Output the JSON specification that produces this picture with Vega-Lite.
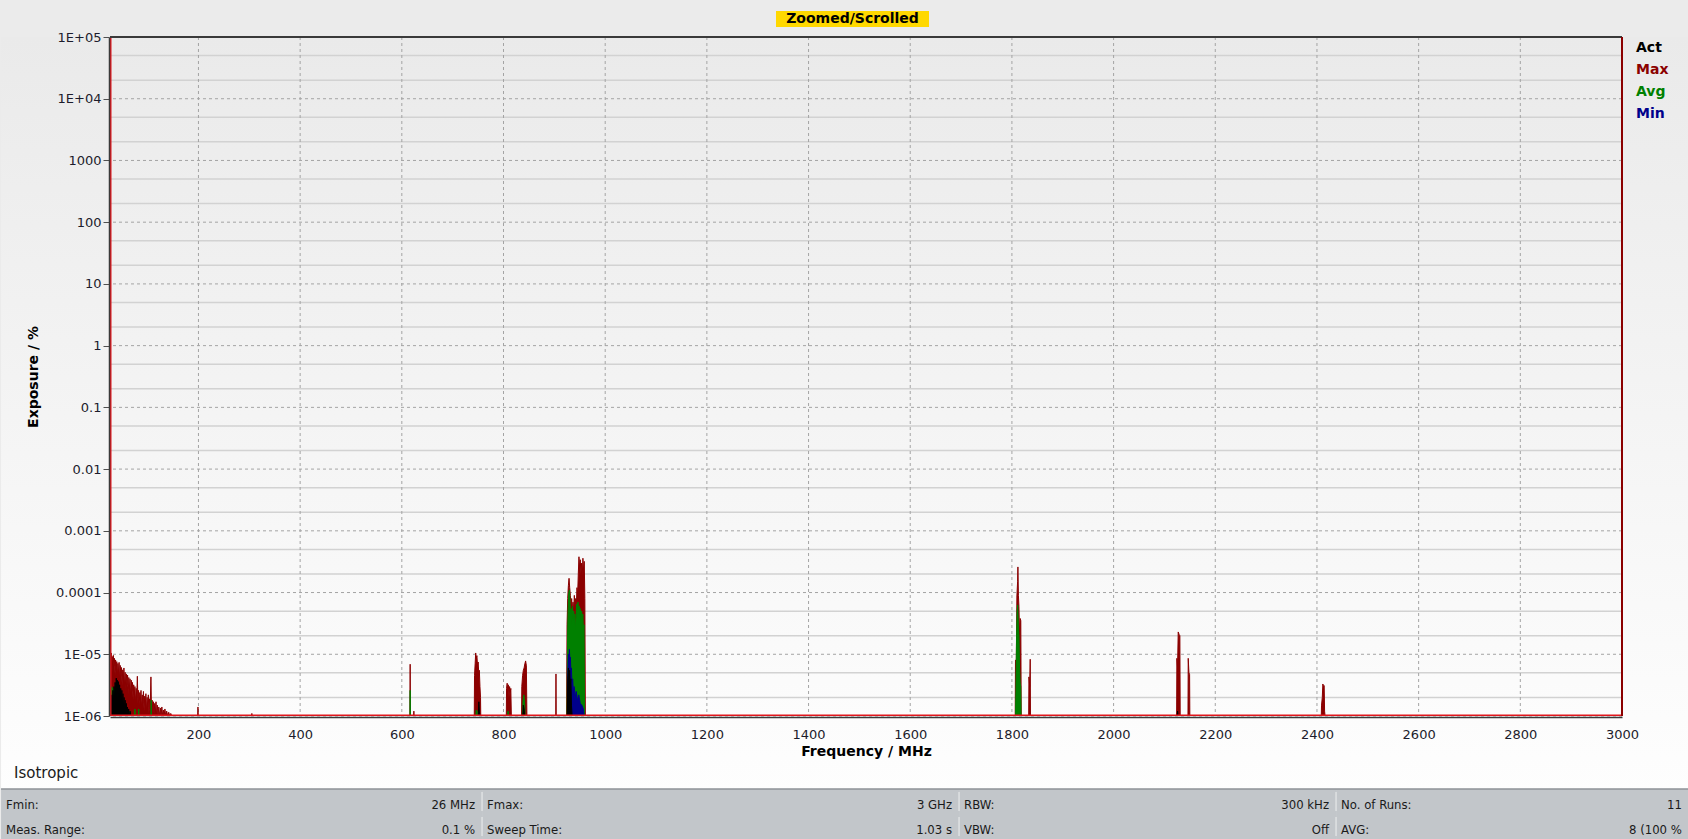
{
  "$schema": "https://vega.github.io/schema/vega-lite/v6.json",
  "background": "#ebebeb",
  "padding": {"left": 0, "top": 11, "right": 0, "bottom": 0},
  "bounds": "flush",
  "center": true,
  "spacing": 10,
  "config": {"view": {"stroke": null}, "font": "DejaVu Sans"},
  "resolve": {"scale": {"x": "independent", "y": "independent", "color": "independent"}, "axis": {"x": "independent", "y": "independent"}, "legend": {"color": "independent"}},
  "datasets": {
    "series": [
      {"s":"Max","f":26.2,"v":9.5e-6},{"s":"Max","f":27.3,"v":6.2e-6},{"s":"Max","f":28.4,"v":1.05e-5},{"s":"Max","f":29.4,"v":7.0e-6},
      {"s":"Max","f":30.5,"v":9.2e-6},{"s":"Max","f":31.5,"v":5.0e-6},{"s":"Max","f":32.6,"v":9.6e-6},{"s":"Max","f":33.6,"v":6.4e-6},
      {"s":"Max","f":34.8,"v":8.6e-6},{"s":"Max","f":35.9,"v":4.6e-6},{"s":"Max","f":37.0,"v":8.1e-6},{"s":"Max","f":38.1,"v":5.4e-6},
      {"s":"Max","f":39.3,"v":7.6e-6},{"s":"Max","f":40.4,"v":4.1e-6},{"s":"Max","f":41.5,"v":7.1e-6},{"s":"Max","f":42.7,"v":4.9e-6},
      {"s":"Max","f":43.9,"v":7.4e-6},{"s":"Max","f":45.0,"v":3.6e-6},{"s":"Max","f":46.2,"v":6.6e-6},{"s":"Max","f":47.4,"v":4.4e-6},
      {"s":"Max","f":48.6,"v":6.1e-6},{"s":"Max","f":49.8,"v":3.1e-6},{"s":"Max","f":51.0,"v":5.6e-6},{"s":"Max","f":52.2,"v":3.8e-6},
      {"s":"Max","f":53.4,"v":6.0e-6},{"s":"Max","f":54.6,"v":3.0e-6},{"s":"Max","f":55.8,"v":5.1e-6},{"s":"Max","f":57.0,"v":2.6e-6},
      {"s":"Max","f":58.2,"v":4.8e-6},{"s":"Max","f":59.4,"v":3.2e-6},{"s":"Max","f":60.6,"v":4.6e-6},{"s":"Max","f":61.8,"v":2.2e-6},
      {"s":"Max","f":63.0,"v":4.2e-6},{"s":"Max","f":64.2,"v":2.8e-6},{"s":"Max","f":65.4,"v":4.0e-6},{"s":"Max","f":66.6,"v":2.0e-6},
      {"s":"Max","f":67.8,"v":3.8e-6},{"s":"Max","f":69.0,"v":2.5e-6},{"s":"Max","f":70.2,"v":3.5e-6},{"s":"Max","f":71.4,"v":1.8e-6},
      {"s":"Max","f":72.6,"v":3.2e-6},{"s":"Max","f":73.8,"v":2.2e-6},{"s":"Max","f":75.0,"v":3.0e-6},{"s":"Max","f":76.2,"v":1.6e-6},
      {"s":"Max","f":77.4,"v":2.8e-6},{"s":"Max","f":78.6,"v":2.0e-6},{"s":"Max","f":79.8,"v":4.4e-6},{"s":"Max","f":81.0,"v":1.6e-6},
      {"s":"Max","f":82.2,"v":2.6e-6},{"s":"Max","f":83.4,"v":1.5e-6},{"s":"Max","f":84.6,"v":2.4e-6},{"s":"Max","f":85.8,"v":1.8e-6},
      {"s":"Max","f":87.0,"v":2.6e-6},{"s":"Max","f":88.2,"v":1.3e-6},{"s":"Max","f":89.4,"v":2.2e-6},{"s":"Max","f":90.6,"v":1.6e-6},
      {"s":"Max","f":91.8,"v":2.5e-6},{"s":"Max","f":93.0,"v":1.2e-6},{"s":"Max","f":94.2,"v":2.1e-6},{"s":"Max","f":95.4,"v":1.5e-6},
      {"s":"Max","f":96.6,"v":2.3e-6},{"s":"Max","f":97.8,"v":1.2e-6},{"s":"Max","f":99.0,"v":2.0e-6},{"s":"Max","f":100.2,"v":1.4e-6},
      {"s":"Max","f":101.4,"v":2.2e-6},{"s":"Max","f":102.6,"v":1.1e-6},{"s":"Max","f":103.8,"v":1.9e-6},{"s":"Max","f":105.0,"v":1.3e-6},
      {"s":"Max","f":106.5,"v":4.3e-6},{"s":"Max","f":107.7,"v":1.1e-6},{"s":"Max","f":109.0,"v":1.8e-6},{"s":"Max","f":110.2,"v":1.2e-6},
      {"s":"Max","f":111.5,"v":1.7e-6},{"s":"Max","f":112.7,"v":1.05e-6},{"s":"Max","f":114.0,"v":1.6e-6},{"s":"Max","f":115.2,"v":1.1e-6},
      {"s":"Max","f":116.5,"v":1.7e-6},{"s":"Max","f":117.7,"v":1.0e-6},{"s":"Max","f":119.0,"v":1.5e-6},{"s":"Max","f":120.5,"v":1.0e-6},
      {"s":"Max","f":122.0,"v":1.4e-6},{"s":"Max","f":123.5,"v":1.0e-6},{"s":"Max","f":125.0,"v":1.35e-6},{"s":"Max","f":126.5,"v":1.0e-6},
      {"s":"Max","f":128.0,"v":1.4e-6},{"s":"Max","f":129.5,"v":1.0e-6},{"s":"Max","f":131.0,"v":1.25e-6},{"s":"Max","f":132.5,"v":1.0e-6},
      {"s":"Max","f":134.0,"v":1.3e-6},{"s":"Max","f":135.5,"v":1.0e-6},{"s":"Max","f":137.5,"v":1.2e-6},{"s":"Max","f":139.5,"v":1.0e-6},
      {"s":"Max","f":141.5,"v":1.15e-6},{"s":"Max","f":143.5,"v":1.0e-6},{"s":"Max","f":145.5,"v":1.1e-6},{"s":"Max","f":147.5,"v":1.0e-6},
      {"s":"Max","f":198.5,"v":1.0e-6},{"s":"Max","f":199.0,"v":1.4e-6},{"s":"Max","f":199.5,"v":1.0e-6},
      {"s":"Max","f":304.5,"v":1.0e-6},{"s":"Max","f":305.0,"v":1.1e-6},{"s":"Max","f":305.5,"v":1.0e-6},
      {"s":"Max","f":616.0,"v":1.0e-6},{"s":"Max","f":616.4,"v":6.9e-6},{"s":"Max","f":616.8,"v":1.0e-6},
      {"s":"Max","f":623.3,"v":1.0e-6},{"s":"Max","f":623.7,"v":1.2e-6},{"s":"Max","f":624.1,"v":1.0e-6},
      {"s":"Max","f":742.5,"v":1.0e-6},{"s":"Max","f":743.0,"v":4.5e-6},{"s":"Max","f":744.2,"v":7.0e-6},{"s":"Max","f":745.3,"v":1.05e-5},
      {"s":"Max","f":746.5,"v":8.5e-6},{"s":"Max","f":747.7,"v":9.5e-6},{"s":"Max","f":748.9,"v":6.5e-6},{"s":"Max","f":750.1,"v":7.5e-6},
      {"s":"Max","f":751.3,"v":5.0e-6},{"s":"Max","f":752.5,"v":5.5e-6},{"s":"Max","f":753.7,"v":3.0e-6},{"s":"Max","f":754.8,"v":2.0e-6},
      {"s":"Max","f":755.3,"v":1.0e-6},
      {"s":"Max","f":805.5,"v":1.0e-6},{"s":"Max","f":806.0,"v":2.8e-6},{"s":"Max","f":807.2,"v":3.4e-6},{"s":"Max","f":808.4,"v":2.5e-6},
      {"s":"Max","f":809.6,"v":3.2e-6},{"s":"Max","f":810.8,"v":2.0e-6},{"s":"Max","f":812.0,"v":3.0e-6},{"s":"Max","f":813.2,"v":2.4e-6},
      {"s":"Max","f":814.4,"v":2.8e-6},{"s":"Max","f":815.4,"v":1.0e-6},
      {"s":"Max","f":835.5,"v":1.0e-6},{"s":"Max","f":836.0,"v":3.0e-6},{"s":"Max","f":837.5,"v":4.5e-6},{"s":"Max","f":839.0,"v":5.5e-6},
      {"s":"Max","f":840.5,"v":6.0e-6},{"s":"Max","f":842.0,"v":7.0e-6},{"s":"Max","f":843.5,"v":7.8e-6},{"s":"Max","f":845.0,"v":6.5e-6},
      {"s":"Max","f":846.0,"v":1.0e-6},
      {"s":"Max","f":902.8,"v":1.0e-6},{"s":"Max","f":903.2,"v":4.8e-6},{"s":"Max","f":903.6,"v":1.0e-6},
      {"s":"Max","f":924.0,"v":1.0e-6},{"s":"Max","f":925.0,"v":3.0e-5},{"s":"Max","f":926.3,"v":8.0e-5},{"s":"Max","f":927.6,"v":1.3e-4},
      {"s":"Max","f":928.9,"v":1.7e-4},{"s":"Max","f":930.2,"v":1.2e-4},{"s":"Max","f":931.5,"v":9.0e-5},{"s":"Max","f":932.8,"v":6.0e-5},
      {"s":"Max","f":934.1,"v":8.0e-5},{"s":"Max","f":935.4,"v":5.0e-5},{"s":"Max","f":936.7,"v":7.0e-5},{"s":"Max","f":938.0,"v":5.0e-5},
      {"s":"Max","f":939.3,"v":9.0e-5},{"s":"Max","f":940.6,"v":6.0e-5},{"s":"Max","f":941.9,"v":8.0e-5},{"s":"Max","f":943.2,"v":6.0e-5},
      {"s":"Max","f":944.5,"v":1.2e-4},{"s":"Max","f":945.8,"v":9.0e-5},{"s":"Max","f":947.1,"v":2.0e-4},{"s":"Max","f":948.4,"v":3.8e-4},
      {"s":"Max","f":949.7,"v":2.5e-4},{"s":"Max","f":951.0,"v":3.4e-4},{"s":"Max","f":952.3,"v":2.0e-4},{"s":"Max","f":953.6,"v":3.0e-4},
      {"s":"Max","f":954.9,"v":1.8e-4},{"s":"Max","f":956.2,"v":3.6e-4},{"s":"Max","f":957.5,"v":2.2e-4},{"s":"Max","f":958.8,"v":3.2e-4},
      {"s":"Max","f":960.0,"v":8.0e-5},{"s":"Max","f":961.0,"v":1.0e-6},
      {"s":"Max","f":1806.5,"v":1.0e-6},{"s":"Max","f":1807.0,"v":8.1e-6},{"s":"Max","f":1808.4,"v":5.0e-6},{"s":"Max","f":1809.8,"v":8.8e-5},
      {"s":"Max","f":1811.2,"v":1.5e-4},{"s":"Max","f":1811.8,"v":2.6e-4},{"s":"Max","f":1812.8,"v":9.0e-5},{"s":"Max","f":1813.8,"v":6.0e-5},
      {"s":"Max","f":1815.0,"v":2.0e-5},{"s":"Max","f":1816.3,"v":3.8e-5},{"s":"Max","f":1817.5,"v":3.5e-5},{"s":"Max","f":1818.3,"v":1.0e-6},
      {"s":"Max","f":1833.0,"v":1.0e-6},{"s":"Max","f":1833.5,"v":4.3e-6},{"s":"Max","f":1835.0,"v":3.0e-6},{"s":"Max","f":1836.0,"v":8.3e-6},
      {"s":"Max","f":1836.5,"v":1.0e-6},
      {"s":"Max","f":2124.0,"v":1.0e-6},{"s":"Max","f":2124.5,"v":8.6e-6},{"s":"Max","f":2125.8,"v":6.0e-6},{"s":"Max","f":2127.1,"v":2.3e-5},
      {"s":"Max","f":2128.8,"v":2.1e-5},{"s":"Max","f":2130.4,"v":2.0e-5},{"s":"Max","f":2131.0,"v":1.0e-6},
      {"s":"Max","f":2146.3,"v":1.0e-6},{"s":"Max","f":2146.8,"v":8.6e-6},{"s":"Max","f":2148.2,"v":5.0e-6},{"s":"Max","f":2149.5,"v":4.7e-6},
      {"s":"Max","f":2150.0,"v":1.0e-6},
      {"s":"Max","f":2408.5,"v":1.0e-6},{"s":"Max","f":2409.0,"v":1.5e-6},{"s":"Max","f":2410.5,"v":2.0e-6},{"s":"Max","f":2411.6,"v":3.3e-6},
      {"s":"Max","f":2413.0,"v":3.0e-6},{"s":"Max","f":2414.2,"v":3.1e-6},{"s":"Max","f":2415.0,"v":1.2e-6},{"s":"Max","f":2416.0,"v":1.0e-6},

      {"s":"Avg","f":26.2,"v":2.5e-6},{"s":"Avg","f":27.2,"v":1.5e-6},{"s":"Avg","f":28.2,"v":3.0e-6},{"s":"Avg","f":29.2,"v":1.8e-6},
      {"s":"Avg","f":30.3,"v":2.9e-6},{"s":"Avg","f":31.3,"v":1.5e-6},{"s":"Avg","f":32.4,"v":2.7e-6},{"s":"Avg","f":33.4,"v":1.6e-6},
      {"s":"Avg","f":34.5,"v":2.8e-6},{"s":"Avg","f":35.5,"v":1.4e-6},{"s":"Avg","f":36.6,"v":2.5e-6},{"s":"Avg","f":37.7,"v":1.8e-6},
      {"s":"Avg","f":38.8,"v":2.6e-6},{"s":"Avg","f":39.9,"v":1.3e-6},{"s":"Avg","f":41.0,"v":2.2e-6},{"s":"Avg","f":42.1,"v":1.5e-6},
      {"s":"Avg","f":43.2,"v":2.3e-6},{"s":"Avg","f":44.3,"v":1.2e-6},{"s":"Avg","f":45.4,"v":2.0e-6},{"s":"Avg","f":46.5,"v":1.3e-6},
      {"s":"Avg","f":47.6,"v":1.9e-6},{"s":"Avg","f":48.7,"v":1.1e-6},{"s":"Avg","f":49.8,"v":1.7e-6},{"s":"Avg","f":50.9,"v":1.1e-6},
      {"s":"Avg","f":52.0,"v":1.6e-6},{"s":"Avg","f":53.1,"v":1.0e-6},{"s":"Avg","f":54.2,"v":1.5e-6},{"s":"Avg","f":55.3,"v":1.0e-6},
      {"s":"Avg","f":56.5,"v":1.4e-6},{"s":"Avg","f":57.7,"v":1.0e-6},{"s":"Avg","f":59.0,"v":1.3e-6},{"s":"Avg","f":60.3,"v":1.0e-6},
      {"s":"Avg","f":61.7,"v":1.25e-6},{"s":"Avg","f":63.1,"v":1.0e-6},{"s":"Avg","f":65.0,"v":1.2e-6},{"s":"Avg","f":67.0,"v":1.0e-6},
      {"s":"Avg","f":74.5,"v":1.0e-6},{"s":"Avg","f":75.0,"v":1.3e-6},{"s":"Avg","f":75.5,"v":1.0e-6},
      {"s":"Avg","f":82.0,"v":1.0e-6},{"s":"Avg","f":82.5,"v":1.3e-6},{"s":"Avg","f":83.0,"v":1.0e-6},
      {"s":"Avg","f":106.5,"v":1.0e-6},{"s":"Avg","f":107.0,"v":1.8e-6},{"s":"Avg","f":107.5,"v":1.0e-6},
      {"s":"Avg","f":616.0,"v":1.0e-6},{"s":"Avg","f":616.4,"v":2.6e-6},{"s":"Avg","f":616.8,"v":1.0e-6},
      {"s":"Avg","f":745.5,"v":1.0e-6},{"s":"Avg","f":746.5,"v":1.25e-6},{"s":"Avg","f":748.0,"v":1.2e-6},{"s":"Avg","f":749.0,"v":1.0e-6},
      {"s":"Avg","f":808.0,"v":1.0e-6},{"s":"Avg","f":809.0,"v":1.2e-6},{"s":"Avg","f":810.0,"v":1.0e-6},
      {"s":"Avg","f":837.5,"v":1.0e-6},{"s":"Avg","f":838.5,"v":1.8e-6},{"s":"Avg","f":840.0,"v":2.2e-6},{"s":"Avg","f":841.5,"v":1.6e-6},
      {"s":"Avg","f":842.5,"v":1.0e-6},
      {"s":"Avg","f":925.0,"v":1.0e-6},{"s":"Avg","f":926.0,"v":2.0e-5},{"s":"Avg","f":927.2,"v":6.0e-5},{"s":"Avg","f":928.4,"v":1.0e-4},
      {"s":"Avg","f":929.6,"v":1.1e-4},{"s":"Avg","f":930.8,"v":7.0e-5},{"s":"Avg","f":932.0,"v":4.0e-5},{"s":"Avg","f":933.2,"v":5.5e-5},
      {"s":"Avg","f":934.4,"v":3.0e-5},{"s":"Avg","f":935.6,"v":6.0e-5},{"s":"Avg","f":936.8,"v":3.5e-5},{"s":"Avg","f":938.0,"v":5.0e-5},
      {"s":"Avg","f":939.2,"v":3.0e-5},{"s":"Avg","f":940.4,"v":4.5e-5},{"s":"Avg","f":941.6,"v":2.5e-5},{"s":"Avg","f":942.8,"v":4.0e-5},
      {"s":"Avg","f":944.0,"v":6.5e-5},{"s":"Avg","f":945.2,"v":4.0e-5},{"s":"Avg","f":946.4,"v":7.0e-5},{"s":"Avg","f":947.6,"v":5.0e-5},
      {"s":"Avg","f":948.8,"v":6.0e-5},{"s":"Avg","f":950.0,"v":4.0e-5},{"s":"Avg","f":951.2,"v":5.5e-5},{"s":"Avg","f":952.4,"v":3.5e-5},
      {"s":"Avg","f":953.6,"v":5.0e-5},{"s":"Avg","f":954.8,"v":3.0e-5},{"s":"Avg","f":956.0,"v":4.5e-5},{"s":"Avg","f":957.2,"v":2.5e-5},
      {"s":"Avg","f":958.4,"v":3.0e-5},{"s":"Avg","f":959.5,"v":1.0e-6},
      {"s":"Avg","f":1807.0,"v":1.0e-6},{"s":"Avg","f":1808.0,"v":2.5e-6},{"s":"Avg","f":1809.0,"v":1.5e-5},{"s":"Avg","f":1810.2,"v":5.0e-5},
      {"s":"Avg","f":1811.4,"v":6.3e-5},{"s":"Avg","f":1812.6,"v":3.0e-5},{"s":"Avg","f":1813.8,"v":2.0e-5},{"s":"Avg","f":1815.0,"v":6.0e-6},
      {"s":"Avg","f":1816.2,"v":3.4e-6},{"s":"Avg","f":1817.4,"v":3.0e-6},{"s":"Avg","f":1818.0,"v":1.0e-6},

      {"s":"Min","f":925.8,"v":1.0e-6},{"s":"Min","f":926.6,"v":5.0e-6},{"s":"Min","f":927.6,"v":1.0e-5},{"s":"Min","f":928.6,"v":7.0e-6},
      {"s":"Min","f":929.6,"v":1.2e-5},{"s":"Min","f":930.6,"v":8.0e-6},{"s":"Min","f":931.6,"v":9.0e-6},{"s":"Min","f":932.6,"v":5.0e-6},
      {"s":"Min","f":933.6,"v":6.0e-6},{"s":"Min","f":934.8,"v":3.0e-6},{"s":"Min","f":936.0,"v":4.0e-6},{"s":"Min","f":937.5,"v":2.5e-6},
      {"s":"Min","f":939.0,"v":3.0e-6},{"s":"Min","f":941.0,"v":2.0e-6},{"s":"Min","f":943.0,"v":2.5e-6},{"s":"Min","f":945.5,"v":1.8e-6},
      {"s":"Min","f":948.0,"v":2.2e-6},{"s":"Min","f":951.0,"v":1.6e-6},{"s":"Min","f":954.0,"v":1.5e-6},{"s":"Min","f":957.0,"v":1.3e-6},
      {"s":"Min","f":958.5,"v":1.0e-6},

      {"s":"Act","f":26.4,"v":1.2e-6},{"s":"Act","f":27.4,"v":1.8e-6},{"s":"Act","f":28.4,"v":1.3e-6},{"s":"Act","f":29.5,"v":2.2e-6},
      {"s":"Act","f":30.6,"v":1.5e-6},{"s":"Act","f":31.7,"v":2.6e-6},{"s":"Act","f":32.8,"v":1.7e-6},{"s":"Act","f":33.9,"v":3.0e-6},
      {"s":"Act","f":35.0,"v":1.9e-6},{"s":"Act","f":36.1,"v":3.5e-6},{"s":"Act","f":37.2,"v":2.1e-6},{"s":"Act","f":38.3,"v":4.1e-6},
      {"s":"Act","f":39.4,"v":2.2e-6},{"s":"Act","f":40.5,"v":3.8e-6},{"s":"Act","f":41.6,"v":2.0e-6},{"s":"Act","f":42.7,"v":3.6e-6},
      {"s":"Act","f":43.8,"v":1.8e-6},{"s":"Act","f":44.9,"v":3.2e-6},{"s":"Act","f":46.0,"v":1.6e-6},{"s":"Act","f":47.1,"v":2.8e-6},
      {"s":"Act","f":48.2,"v":1.5e-6},{"s":"Act","f":49.3,"v":2.6e-6},{"s":"Act","f":50.4,"v":1.4e-6},{"s":"Act","f":51.5,"v":2.3e-6},
      {"s":"Act","f":52.6,"v":1.3e-6},{"s":"Act","f":53.7,"v":2.0e-6},{"s":"Act","f":54.8,"v":1.2e-6},{"s":"Act","f":55.9,"v":1.8e-6},
      {"s":"Act","f":57.0,"v":1.1e-6},{"s":"Act","f":58.1,"v":1.6e-6},{"s":"Act","f":59.2,"v":1.05e-6},{"s":"Act","f":60.3,"v":1.4e-6},
      {"s":"Act","f":61.5,"v":1.0e-6},{"s":"Act","f":62.7,"v":1.3e-6},{"s":"Act","f":64.0,"v":1.0e-6},{"s":"Act","f":65.5,"v":1.2e-6},
      {"s":"Act","f":67.0,"v":1.0e-6},
      {"s":"Act","f":750.5,"v":1.0e-6},{"s":"Act","f":751.5,"v":1.7e-6},{"s":"Act","f":752.5,"v":1.2e-6},{"s":"Act","f":753.5,"v":1.0e-6},
      {"s":"Act","f":838.0,"v":1.0e-6},{"s":"Act","f":839.0,"v":1.5e-6},{"s":"Act","f":840.5,"v":1.3e-6},{"s":"Act","f":841.5,"v":1.0e-6},
      {"s":"Act","f":925.5,"v":1.0e-6},{"s":"Act","f":926.5,"v":4.0e-6},{"s":"Act","f":927.7,"v":6.0e-6},{"s":"Act","f":928.9,"v":3.5e-6},
      {"s":"Act","f":930.1,"v":5.5e-6},{"s":"Act","f":931.3,"v":3.0e-6},{"s":"Act","f":932.5,"v":4.0e-6},{"s":"Act","f":933.7,"v":1.5e-6},
      {"s":"Act","f":935.0,"v":1.0e-6},
      {"s":"Act","f":2125.0,"v":1.0e-6},{"s":"Act","f":2125.8,"v":1.2e-6},{"s":"Act","f":2126.6,"v":1.0e-6}
    ],
    "edge": [{"f": 26, "v": 100000}, {"f": 26.01, "v": 0.000001}, {"f": 3000, "v": 0.000001}],
    "ymajor": [{"v":0.000001},{"v":0.00001},{"v":0.0001},{"v":0.001},{"v":0.01},{"v":0.1},{"v":1},{"v":10},{"v":100},{"v":1000},{"v":10000}],
    "yminor": [{"v":0.000002},{"v":0.000005},{"v":0.00002},{"v":0.00005},{"v":0.0002},{"v":0.0005},{"v":0.002},{"v":0.005},{"v":0.02},{"v":0.05},{"v":0.2},{"v":0.5},{"v":2},{"v":5},{"v":20},{"v":50},{"v":200},{"v":500},{"v":2000},{"v":5000},{"v":20000},{"v":50000}],
    "xgrid": [{"f":200},{"f":400},{"f":600},{"f":800},{"f":1000},{"f":1200},{"f":1400},{"f":1600},{"f":1800},{"f":2000},{"f":2200},{"f":2400},{"f":2600},{"f":2800}],
    "status": [
      {"row":"r1","col":0,"next":1,"label":"Fmin:","value":"26 MHz"},
      {"row":"r1","col":1,"next":2,"label":"Fmax:","value":"3 GHz"},
      {"row":"r1","col":2,"next":3,"label":"RBW:","value":"300 kHz"},
      {"row":"r1","col":3,"next":4,"label":"No. of Runs:","value":"11"},
      {"row":"r2","col":0,"next":1,"label":"Meas. Range:","value":"0.1 %"},
      {"row":"r2","col":1,"next":2,"label":"Sweep Time:","value":"1.03 s"},
      {"row":"r2","col":2,"next":3,"label":"VBW:","value":"Off"},
      {"row":"r2","col":3,"next":4,"label":"AVG:","value":"8  (100 %"}
    ]
  },
  "vconcat": [
    {
      "width": 180,
      "height": 16,
      "data": {"values": [{"t": "Zoomed/Scrolled"}]},
      "encoding": {"x": {"field": "t", "type": "nominal", "axis": null, "scale": {"type": "band", "paddingInner": 0, "paddingOuter": 0.0882, "align": 0}}},
      "layer": [
        {"mark": {"type": "rect", "color": "#ffd800"}},
        {"mark": {"type": "text", "font": "DejaVu Sans", "fontWeight": "bold", "fontSize": 14, "color": "#000000"}, "encoding": {"text": {"field": "t"}}}
      ]
    },
    {
      "width": 1512,
      "height": 679,
      "layer": [
        {
          "data": {"values": [{}]},
          "mark": {"type": "rect", "color": {"gradient": "linear", "x1": 0, "y1": 0, "x2": 0, "y2": 1, "stops": [{"offset": 0, "color": "#eaeaea"}, {"offset": 0.85, "color": "#fcfcfc"}, {"offset": 1, "color": "#ffffff"}]}},
          "encoding": {
            "x": {"datum": -188.3, "type": "quantitative", "scale": {"type": "linear", "domain": [26, 3000], "zero": false, "nice": false}},
            "x2": {"datum": 3131.5},
            "y": {"datum": 100000, "type": "quantitative", "scale": {"type": "log", "domain": [0.000001, 100000], "nice": false}},
            "y2": {"datum": 0.0000000105}
          }
        },
        {
          "data": {"name": "yminor"},
          "mark": {"type": "rule", "color": "#d2d2d2", "strokeWidth": 1.5},
          "encoding": {"y": {"field": "v", "type": "quantitative", "scale": {"type": "log", "domain": [0.000001, 100000], "nice": false}}}
        },
        {
          "data": {"name": "ymajor"},
          "mark": {"type": "rule", "color": "#a4a4a4", "strokeWidth": 1, "strokeDash": [3, 3]},
          "encoding": {"y": {"field": "v", "type": "quantitative", "scale": {"type": "log", "domain": [0.000001, 100000], "nice": false}}}
        },
        {
          "data": {"name": "xgrid"},
          "mark": {"type": "rule", "color": "#a4a4a4", "strokeWidth": 1, "strokeDash": [3, 3]},
          "encoding": {"x": {"field": "f", "type": "quantitative", "scale": {"type": "linear", "domain": [26, 3000], "zero": false, "nice": false}}}
        },
        {
          "data": {"name": "series"},
          "transform": [{"filter": "datum.s === 'Max'"}],
          "mark": {"type": "area", "clip": true, "stroke": "#8b0000", "strokeWidth": 1, "opacity": 1, "interpolate": "linear"},
          "encoding": {
            "x": {"field": "f", "type": "quantitative", "scale": {"type": "linear", "domain": [26, 3000], "zero": false, "nice": false},
              "axis": {"title": "Frequency / MHz", "values": [200, 400, 600, 800, 1000, 1200, 1400, 1600, 1800, 2000, 2200, 2400, 2600, 2800, 3000], "format": "d", "grid": false, "ticks": false, "domain": true, "domainColor": "#3a3a3a", "domainWidth": 1.5, "offset": 1, "labelPadding": 11, "labelFont": "DejaVu Sans", "labelFontSize": 13, "labelColor": "#1c1c2c", "labelFlush": false, "labelOverlap": false, "titleFont": "DejaVu Sans", "titleFontSize": 14, "titleFontWeight": "bold", "titleColor": "#000000", "titlePadding": 3, "zindex": 1}},
            "y": {"field": "v", "type": "quantitative", "stack": null, "scale": {"type": "log", "domain": [0.000001, 100000], "nice": false},
              "axis": {"title": "Exposure / %", "values": [0.000001, 0.00001, 0.0001, 0.001, 0.01, 0.1, 1, 10, 100, 1000, 10000, 100000], "labelExpr": "datum.value >= 100000 ? '1E+05' : datum.value >= 10000 ? '1E+04' : datum.value <= 0.000001 ? '1E-06' : datum.value <= 0.00001 ? '1E-05' : format(datum.value, '')", "grid": false, "ticks": true, "tickSize": 6, "tickColor": "#505050", "tickWidth": 1, "domain": true, "domainColor": "#3a3a3a", "domainWidth": 1.5, "offset": 1, "labelPadding": 2, "labelFont": "DejaVu Sans", "labelFontSize": 13, "labelColor": "#1c1c2c", "labelFlush": false, "labelOverlap": false, "minExtent": 52, "maxExtent": 52, "titleFont": "DejaVu Sans", "titleFontSize": 14, "titleFontWeight": "bold", "titleColor": "#000000", "titlePadding": 17, "zindex": 1}},
            "y2": {"datum": 0.000001},
            "color": {"field": "s", "type": "nominal",
              "scale": {"domain": ["Act", "Max", "Avg", "Min"], "range": ["#000000", "#8b0000", "#008000", "#00008b"]},
              "legend": {"title": null, "orient": "right", "offset": -4, "padding": 4, "zindex": 1, "symbolSize": 0, "symbolOpacity": 0, "symbolStrokeWidth": 0, "labelOffset": 0, "labelFont": "DejaVu Sans", "labelFontSize": 14, "labelFontWeight": "bold", "rowPadding": 8,
                "labelColor": {"expr": "datum.value === 'Act' ? '#000000' : datum.value === 'Max' ? '#8b0000' : datum.value === 'Avg' ? '#008000' : '#00008b'"}}}
          }
        },
        {
          "data": {"name": "series"},
          "transform": [{"filter": "datum.s === 'Avg'"}],
          "mark": {"type": "area", "clip": true, "stroke": "#008000", "strokeWidth": 1, "opacity": 1, "interpolate": "linear"},
          "encoding": {
            "x": {"field": "f", "type": "quantitative", "scale": {"type": "linear", "domain": [26, 3000], "zero": false, "nice": false}},
            "y": {"field": "v", "type": "quantitative", "stack": null, "scale": {"type": "log", "domain": [0.000001, 100000], "nice": false}},
            "y2": {"datum": 0.000001},
            "color": {"field": "s", "type": "nominal"}
          }
        },
        {
          "data": {"name": "series"},
          "transform": [{"filter": "datum.s === 'Min'"}],
          "mark": {"type": "area", "clip": true, "stroke": "#00008b", "strokeWidth": 1, "opacity": 1, "interpolate": "linear"},
          "encoding": {
            "x": {"field": "f", "type": "quantitative", "scale": {"type": "linear", "domain": [26, 3000], "zero": false, "nice": false}},
            "y": {"field": "v", "type": "quantitative", "stack": null, "scale": {"type": "log", "domain": [0.000001, 100000], "nice": false}},
            "y2": {"datum": 0.000001},
            "color": {"field": "s", "type": "nominal"}
          }
        },
        {
          "data": {"name": "series"},
          "transform": [{"filter": "datum.s === 'Act'"}],
          "mark": {"type": "area", "clip": true, "stroke": "#000000", "strokeWidth": 1, "opacity": 1, "interpolate": "linear"},
          "encoding": {
            "x": {"field": "f", "type": "quantitative", "scale": {"type": "linear", "domain": [26, 3000], "zero": false, "nice": false}},
            "y": {"field": "v", "type": "quantitative", "stack": null, "scale": {"type": "log", "domain": [0.000001, 100000], "nice": false}},
            "y2": {"datum": 0.000001},
            "color": {"field": "s", "type": "nominal"}
          }
        },
        {
          "data": {"name": "edge"},
          "mark": {"type": "line", "clip": true, "color": "#e0161c", "strokeWidth": 3},
          "encoding": {
            "x": {"field": "f", "type": "quantitative", "scale": {"type": "linear", "domain": [26, 3000], "zero": false, "nice": false}},
            "y": {"field": "v", "type": "quantitative", "scale": {"type": "log", "domain": [0.000001, 100000], "nice": false}}
          }
        },
        {
          "data": {"values": [{}]},
          "mark": {"type": "rule", "color": "#3a3a3a", "strokeWidth": 2},
          "encoding": {"y": {"datum": 100000, "type": "quantitative", "scale": {"type": "log", "domain": [0.000001, 100000], "nice": false}}}
        },
        {
          "data": {"values": [{}]},
          "mark": {"type": "rule", "color": "#8b0000", "strokeWidth": 2},
          "encoding": {"x": {"datum": 3000, "type": "quantitative", "scale": {"type": "linear", "domain": [26, 3000], "zero": false, "nice": false}}}
        }
      ]
    },
    {
      "width": 1512,
      "height": 113,
      "layer": [
        {
          "data": {"name": "status"},
          "mark": {"type": "rect", "color": "#c2c6ca"},
          "encoding": {
            "x": {"field": "col", "type": "quantitative", "scale": {"domain": [0, 1, 2, 3, 4], "range": [-108.95, 372.05, 849.05, 1226.05, 1578.85], "zero": false, "nice": false}, "axis": null},
            "x2": {"field": "next"},
            "y": {"field": "row", "type": "nominal", "scale": {"type": "band", "domain": ["iso", "r1", "r2"], "paddingInner": 0, "paddingOuter": 0.76, "align": 1}, "axis": null}
          }
        },
        {
          "data": {"name": "status"},
          "transform": [{"filter": "datum.row === 'r1' && datum.col === 0"}],
          "mark": {"type": "rule", "color": "#8e9297", "strokeWidth": 1.5},
          "encoding": {
            "x": {"field": "col", "type": "quantitative", "scale": {"domain": [0, 1, 2, 3, 4], "range": [-108.95, 372.05, 849.05, 1226.05, 1578.85], "zero": false, "nice": false}, "axis": null},
            "x2": {"datum": 4},
            "y": {"field": "row", "type": "nominal", "bandPosition": 0, "scale": {"type": "band", "domain": ["iso", "r1", "r2"], "paddingInner": 0, "paddingOuter": 0.76, "align": 1}, "axis": null}
          }
        },
        {
          "data": {"name": "status"},
          "transform": [{"filter": "datum.col > 0"}],
          "mark": {"type": "tick", "color": "#e9ebed", "thickness": 1.5, "size": 19},
          "encoding": {
            "x": {"field": "col", "type": "quantitative", "scale": {"domain": [0, 1, 2, 3, 4], "range": [-108.95, 372.05, 849.05, 1226.05, 1578.85], "zero": false, "nice": false}, "axis": null},
            "y": {"field": "row", "type": "nominal", "scale": {"type": "band", "domain": ["iso", "r1", "r2"], "paddingInner": 0, "paddingOuter": 0.76, "align": 1}, "axis": null}
          }
        },
        {
          "data": {"name": "status"},
          "mark": {"type": "text", "align": "left", "dx": 5, "dy": 3, "font": "Liberation Sans Narrow, DejaVu Sans Condensed, Liberation Sans", "fontSize": 13, "color": "#1a1a1a"},
          "encoding": {
            "x": {"field": "col", "type": "quantitative", "scale": {"domain": [0, 1, 2, 3, 4], "range": [-108.95, 372.05, 849.05, 1226.05, 1578.85], "zero": false, "nice": false}, "axis": null},
            "y": {"field": "row", "type": "nominal", "scale": {"type": "band", "domain": ["iso", "r1", "r2"], "paddingInner": 0, "paddingOuter": 0.76, "align": 1}, "axis": null},
            "text": {"field": "label"}
          }
        },
        {
          "data": {"name": "status"},
          "mark": {"type": "text", "align": "right", "dx": -7, "dy": 3, "font": "Liberation Sans Narrow, DejaVu Sans Condensed, Liberation Sans", "fontSize": 13, "color": "#1a1a1a"},
          "encoding": {
            "x": {"field": "next", "type": "quantitative", "scale": {"domain": [0, 1, 2, 3, 4], "range": [-108.95, 372.05, 849.05, 1226.05, 1578.85], "zero": false, "nice": false}, "axis": null},
            "y": {"field": "row", "type": "nominal", "scale": {"type": "band", "domain": ["iso", "r1", "r2"], "paddingInner": 0, "paddingOuter": 0.76, "align": 1}, "axis": null},
            "text": {"field": "value"}
          }
        },
        {
          "data": {"values": [{"row": "iso", "col": 0, "label": "Isotropic"}]},
          "mark": {"type": "text", "align": "left", "dx": 13, "dy": -4, "font": "DejaVu Sans", "fontSize": 15, "color": "#1a1a1a"},
          "encoding": {
            "x": {"field": "col", "type": "quantitative", "scale": {"domain": [0, 1, 2, 3, 4], "range": [-108.95, 372.05, 849.05, 1226.05, 1578.85], "zero": false, "nice": false}, "axis": null},
            "y": {"field": "row", "type": "nominal", "scale": {"type": "band", "domain": ["iso", "r1", "r2"], "paddingInner": 0, "paddingOuter": 0.76, "align": 1}, "axis": null},
            "text": {"field": "label"}
          }
        }
      ]
    }
  ]
}
